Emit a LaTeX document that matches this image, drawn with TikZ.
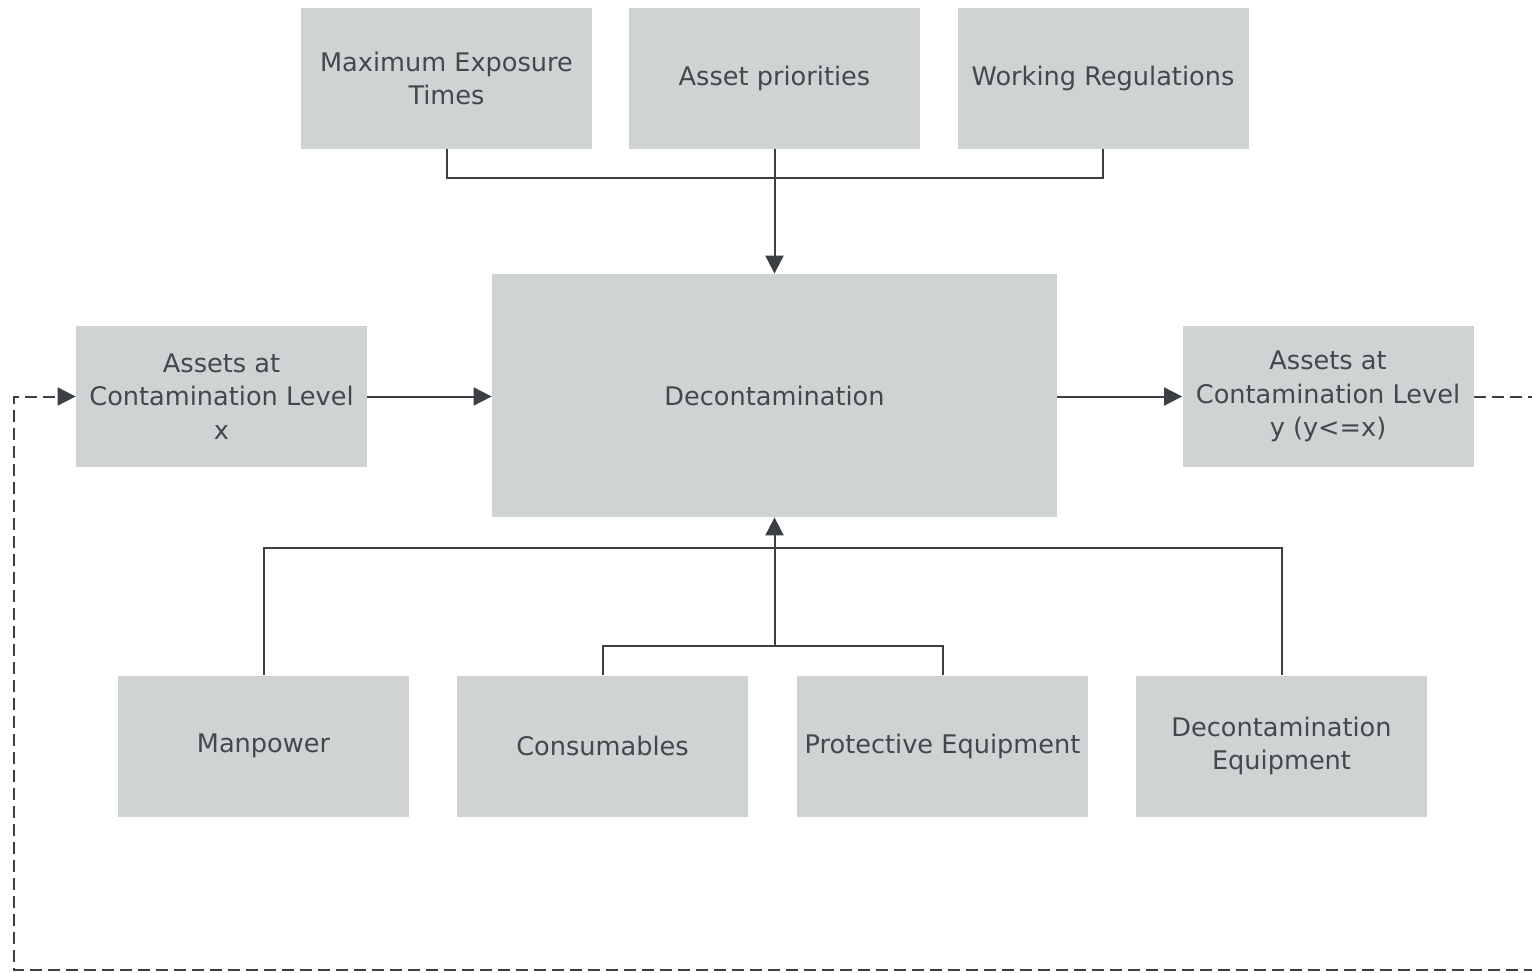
\documentclass[tikz,border=0pt]{standalone}
\usepackage{fontspec}
\setmainfont{DejaVu Sans}
\usetikzlibrary{arrows.meta}
\definecolor{boxfill}{HTML}{D0D3D4}
\definecolor{boxtext}{HTML}{45484B}
\definecolor{wire}{HTML}{3C3F43}
\begin{document}
\begin{tikzpicture}[x=0.5pt,y=-0.5pt,
  block/.style={fill=boxfill, draw=none, inner sep=0pt, align=center,
    text=boxtext, font=\fontsize{12.8}{16.8}\selectfont,
    minimum width=145.5pt, minimum height=70.5pt},
  bigblock/.style={block, minimum width=282.5pt, minimum height=121.5pt},
  wire/.style={draw=wire, line width=1pt},
  flow/.style={wire, -{Triangle[length=9pt,width=9pt]}},
  loop/.style={flow, dash pattern=on 6pt off 3pt}]
\useasboundingbox (0,0) rectangle (1532,973);
\clip (0,0) rectangle (1532,973);

% inputs from above
\node[block] (met) at (446.5,78.5) {Maximum Exposure\\Times};
\node[block] (pri) at (774.5,78.5) {Asset priorities};
\node[block] (reg) at (1103,78.5) {Working Regulations};

% central process
\node[bigblock] (dec) at (774.5,395.5) {Decontamination};

% assets in and out
\node[block] (ain) at (221.5,396.5) {Assets at\\Contamination Level\\x};
\node[block] (aout) at (1328,396.5) {Assets at\\Contamination Level\\y (y<=x)};

% resources from below
\node[block] (man) at (263.5,746) {Manpower};
\node[block] (con) at (602.5,746) {Consumables};
\node[block] (pro) at (942.5,746) {Protective Equipment};
\node[block] (deq) at (1281.5,746) {Decontamination\\Equipment};

% junction points
\coordinate (topbus) at (774.5,178);
\coordinate (lowbus) at (774.5,646);
\coordinate (resbus) at (774.5,548);

% top bracket and arrow into decontamination
\draw[wire] (met.south) |- (topbus) -| (reg.south);
\draw[flow] (pri.south) -- (dec.north);

% bottom brackets and arrow into decontamination
\draw[wire] (man.north) |- (resbus) -| (deq.north);
\draw[wire] (con.north) |- (lowbus) -| (pro.north);
\draw[flow] (lowbus) -- (dec.south);

% main flow
\draw[flow] (ain.east) -- (dec.west |- ain.east);
\draw[flow] (dec.east |- aout.west) -- (aout.west);

% feedback loop
\coordinate (r1) at (1533,396.5);
\coordinate (r2) at (1533,970);
\coordinate (l1) at (14,970);
\coordinate (l2) at (14,396.5);
\draw[loop] (aout.east) -- (r1) -- (r2) -- (l1) -- (l2) -- (ain.west);
\end{tikzpicture}
\end{document}
